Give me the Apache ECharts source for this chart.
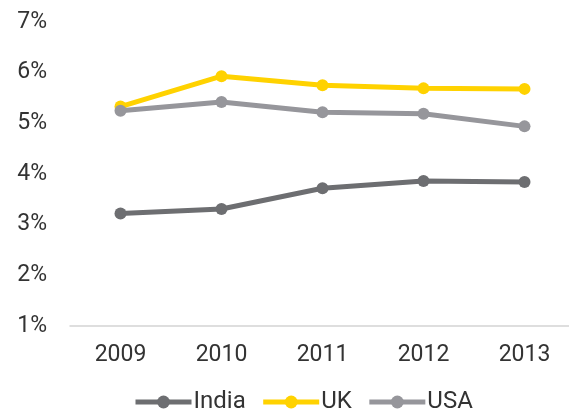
<!DOCTYPE html>
<html><head><meta charset="utf-8">
<script src="https://cdn.jsdelivr.net/npm/echarts@6/dist/echarts.min.js"></script>
<style>html,body{margin:0;padding:0;background:#fff}#c{width:569px;height:412px}</style>
</head><body><div id="c"></div>
<script>
const years = ['2009','2010','2011','2012','2013'];
const india = [3.22, 3.31, 3.72, 3.86, 3.84];
const uk = [5.33, 5.93, 5.75, 5.69, 5.68];
const usa = [5.25, 5.42, 5.22, 5.19, 4.94];
const yTicks = {min: 1, max: 7, interval: 1};

const font = 'Roboto, "Liberation Sans", sans-serif';
const chart = echarts.init(document.getElementById('c'), null, {renderer: 'canvas'});
function s(name, data, color) {
  return {name, type: 'line', data, symbol: 'circle', symbolSize: 12,
    lineStyle: {color, width: 5}, itemStyle: {color}, z: name === 'UK' ? 3 : (name === 'USA' ? 4 : 2)};
}
chart.setOption({
  animation: false,
  textStyle: {fontFamily: font},
  grid: {left: 70, top: 22, bottom: 86, right: -6, outerBoundsMode: 'none', containLabel: false},
  xAxis: {type: 'category', data: years, boundaryGap: true,
    axisLine: {lineStyle: {color: '#d4d4d4', width: 1.5}}, axisTick: {show: false},
    axisLabel: {color: '#333', fontSize: 23, fontFamily: font, margin: 18}},
  yAxis: {type: 'value', min: yTicks.min, max: yTicks.max, interval: yTicks.interval,
    axisLine: {show: false}, axisTick: {show: false}, splitLine: {show: false},
    axisLabel: {color: '#333', fontSize: 23, fontFamily: font, margin: 23, formatter: v => v + '%'}},
  legend: {top: 385, left: 128, itemWidth: 56, itemHeight: 16, itemGap: 15,
    lineStyle: {width: 5},
    textStyle: {color: '#333', fontSize: 24, fontFamily: font, padding: [0, 0, 0, -3]},
    data: ['India', 'UK', 'USA']},
  series: [s('India', india, '#6d6e71'), s('UK', uk, '#ffd200'), s('USA', usa, '#96969b')]
});
</script></body></html>
